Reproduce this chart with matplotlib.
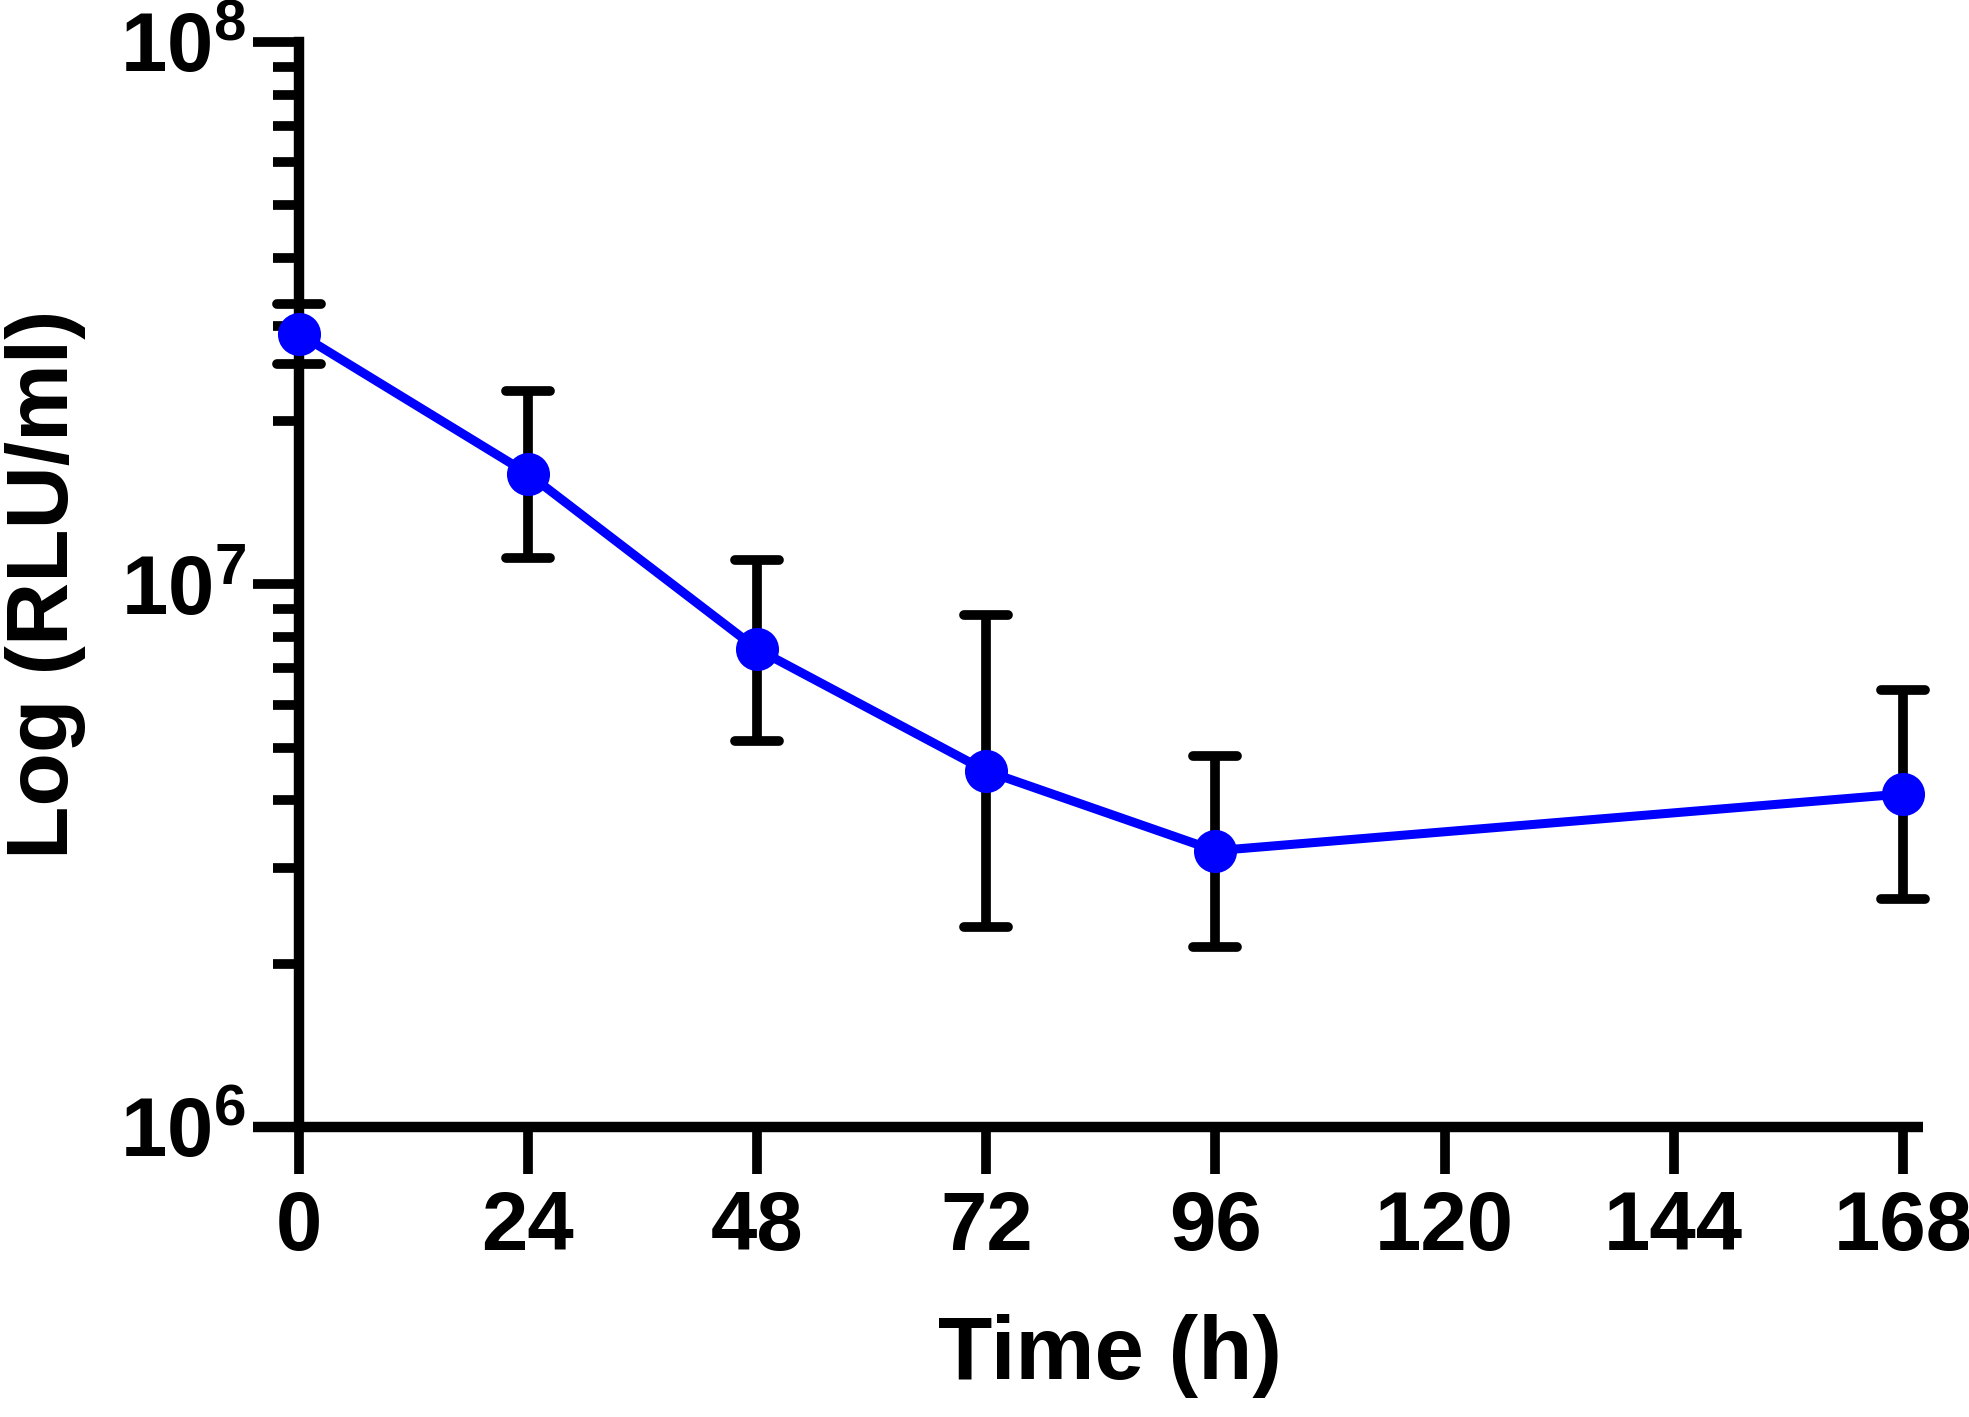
import numpy as np
import matplotlib
matplotlib.use("Agg")
import matplotlib.pyplot as plt
from matplotlib.markers import MarkerStyle
from matplotlib.ticker import LogLocator, LogFormatterSciNotation, NullFormatter

plt.rcParams['font.family'] = 'Liberation Sans'
plt.rcParams['font.weight'] = 'bold'
plt.rcParams['mathtext.fontset'] = 'custom'
plt.rcParams['mathtext.rm'] = 'Liberation Sans:bold'
plt.rcParams['mathtext.bf'] = 'Liberation Sans:bold'
plt.rcParams['mathtext.default'] = 'rm'

# data
time_h = [0, 24, 48, 72, 96, 168]
rlu_mean = [2.90e7, 1.60e7, 7.60e6, 4.53e6, 3.23e6, 4.11e6]
rlu_upper = [3.29e7, 2.27e7, 1.11e7, 8.79e6, 4.83e6, 6.39e6]
rlu_lower = [2.55e7, 1.12e7, 5.15e6, 2.34e6, 2.15e6, 2.63e6]
x_ticks = [0, 24, 48, 72, 96, 120, 144, 168]

mean = np.array(rlu_mean)
err = [mean - np.array(rlu_lower), np.array(rlu_upper) - mean]

fig = plt.figure(figsize=(19.69, 14.17), dpi=100)
ax = fig.add_axes([0.1285, 0.2047, 0.8481, 0.7657])

eb = ax.errorbar(time_h, rlu_mean, yerr=err, fmt='none', ecolor='black',
                 elinewidth=7, capsize=15.5, capthick=7, zorder=3)
for cap in eb[1]:
    cap.set_marker(MarkerStyle('_', capstyle='round'))
    cap.set_clip_on(False)
for col in eb[2]:
    col.set_clip_on(False)

ax.plot(time_h, rlu_mean, color='#0000ff', lw=6.5, marker='o', markersize=31,
        markeredgewidth=0, zorder=4, clip_on=False)

ax.set_yscale('log')
ax.set_ylim(1e6, 1e8)
ax.set_xlim(-4.8, 170.1)

ax.spines['top'].set_visible(False)
ax.spines['right'].set_visible(False)
ax.spines['left'].set_position(('data', 0))
ax.spines['left'].set_linewidth(7.5)
ax.spines['bottom'].set_linewidth(7.5)
ax.spines['left'].set_capstyle('projecting')
ax.spines['bottom'].set_capstyle('butt')

ax.set_xticks(x_ticks)
ax.set_xticklabels([str(t) for t in x_ticks])
ax.yaxis.set_major_locator(LogLocator(base=10, numticks=10))
ax.yaxis.set_minor_locator(LogLocator(base=10, subs=np.arange(2, 10), numticks=20))
ax.yaxis.set_major_formatter(LogFormatterSciNotation())
ax.yaxis.set_minor_formatter(NullFormatter())

ax.tick_params(axis='x', direction='out', length=34, width=7, pad=11, labelsize=60)
ax.tick_params(axis='y', which='major', direction='out', length=33, width=7, pad=5, labelsize=60)
ax.tick_params(axis='y', which='minor', direction='out', length=19, width=7)

ax.set_xlabel('Time (h)', fontsize=64, fontweight='bold')
ax.set_ylabel('Log (RLU/ml)', fontsize=63, fontweight='bold')
ax.xaxis.set_label_coords(0.513, -0.172)
ax.yaxis.set_label_coords(-0.1, 0.5)

fig.savefig('out.png', dpi=100)
